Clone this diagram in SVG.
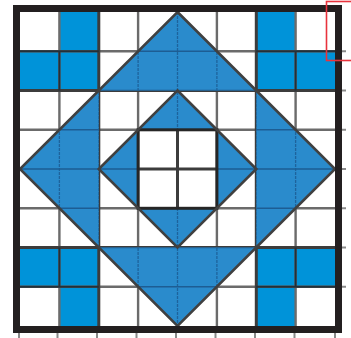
<svg xmlns="http://www.w3.org/2000/svg" width="351" height="338" viewBox="0 0 351 338">
<style>
.cell{fill:#0093d9}
.tri{fill:#2a8bcc}
.thin{stroke:#6b6b6b;stroke-width:2.4;fill:none}
.blk{stroke:#3c3c3c;stroke-width:3;fill:none}
.cellline{stroke:#22303a;stroke-width:2;fill:none}
.vin{stroke:#1e639c;stroke-width:1.3;fill:none;stroke-dasharray:3 1}
.hin{stroke:#1d5d93;stroke-width:1.5;fill:none}
.diag{stroke:#404040;stroke-width:2.6;fill:none;stroke-linejoin:miter}
.tick{stroke:#8a8a8a;stroke-width:2}
</style>
<defs>
<clipPath id="triClip">
<polygon points="177.5,12 256.3,90.5 98.8,90.5"/>
<polygon points="20,169 98.8,90.5 98.8,247.5"/>
<polygon points="335,169 256.3,90.5 256.3,247.5"/>
<polygon points="177.5,326 98.8,247.5 256.3,247.5"/>
<polygon points="177.5,90.5 216.9,129.8 138.1,129.8"/>
<polygon points="256.3,169 216.9,129.8 216.9,208.3"/>
<polygon points="177.5,247.5 216.9,208.3 138.1,208.3"/>
<polygon points="98.8,169 138.1,129.8 138.1,208.3"/>
</clipPath>
</defs>
<rect width="351" height="338" fill="#ffffff"/>
<g id="corner-cells">
<rect class="cell" x="59.4" y="12" width="39.4" height="39.3"/>
<rect class="cell" x="20" y="51.3" width="78.8" height="39.2"/>
<rect class="cell" x="256.3" y="12" width="39.3" height="39.3"/>
<rect class="cell" x="256.3" y="51.3" width="78.7" height="39.2"/>
<rect class="cell" x="20" y="247.5" width="78.8" height="39.3"/>
<rect class="cell" x="59.4" y="286.8" width="39.4" height="39.2"/>
<rect class="cell" x="256.3" y="247.5" width="78.7" height="39.3"/>
<rect class="cell" x="256.3" y="286.8" width="39.3" height="39.2"/>
</g>
<g id="grid">
<path class="thin" d="M59.4 12V326M138.1 12V326M216.9 12V326M295.6 12V326M20 51.3H335M20 129.8H335M20 208.3H335M20 286.8H335"/>
<path class="blk" d="M98.8 12V326M177.5 12V326M256.3 12V326M20 90.5H335M20 169H335M20 247.5H335"/>
<path class="cellline" d="M59.4 51.3V90.5M20 51.3H98.8M295.6 51.3V90.5M256.3 51.3H335M59.4 247.5V286.8M20 286.8H98.8M295.6 247.5V286.8M256.3 286.8H335"/>
</g>
<g id="blue-triangles">
<polygon class="tri" points="177.5,12 256.3,90.5 98.8,90.5"/>
<polygon class="tri" points="20,169 98.8,90.5 98.8,247.5"/>
<polygon class="tri" points="335,169 256.3,90.5 256.3,247.5"/>
<polygon class="tri" points="177.5,326 98.8,247.5 256.3,247.5"/>
<path class="tri" fill-rule="evenodd" d="M177.5 90.5L256.3 169L177.5 247.5L98.8 169ZM138.1 129.8H216.9V208.3H138.1Z"/>
</g>
<g id="grid-under-blue" clip-path="url(#triClip)">
<path class="vin" d="M59.4 12V326M98.8 12V326M138.1 12V326M177.5 12V326M216.9 12V326M256.3 12V326M295.6 12V326"/>
<path class="hin" d="M20 51.3H335M20 90.5H335M20 129.8H335M20 169H335M20 208.3H335M20 247.5H335M20 286.8H335"/>
</g>
<g id="center-square">
<rect x="138.1" y="129.8" width="78.8" height="78.5" fill="none" stroke="#262626" stroke-width="3"/>
</g>
<g id="diamonds">
<polygon class="diag" points="177.5,12 335,169 177.5,326 20,169"/>
<polygon class="diag" points="177.5,90.5 256.3,169 177.5,247.5 98.8,169"/>
</g>
<g id="ticks">
<path class="tick" d="M19 333V338M57.5 333V338M97 333V338M136.5 333V338M176 333V338M215.5 333V338M255 333V338M294.5 333V338M335 333V338"/>
<path class="tick" d="M342 51.3H346M342 90.5H346M342 129.8H346M342 169H346M342 208.3H346M342 247.5H346M342 286.8H346"/>
</g>
<g id="frame">
<rect x="16.5" y="8.5" width="322" height="321" fill="none" stroke="#231f20" stroke-width="7"/>
</g>
<g id="highlight">
<rect x="326.5" y="1.5" width="40" height="59" fill="none" stroke="#e8333d" stroke-width="1.6"/>
</g>
</svg>
